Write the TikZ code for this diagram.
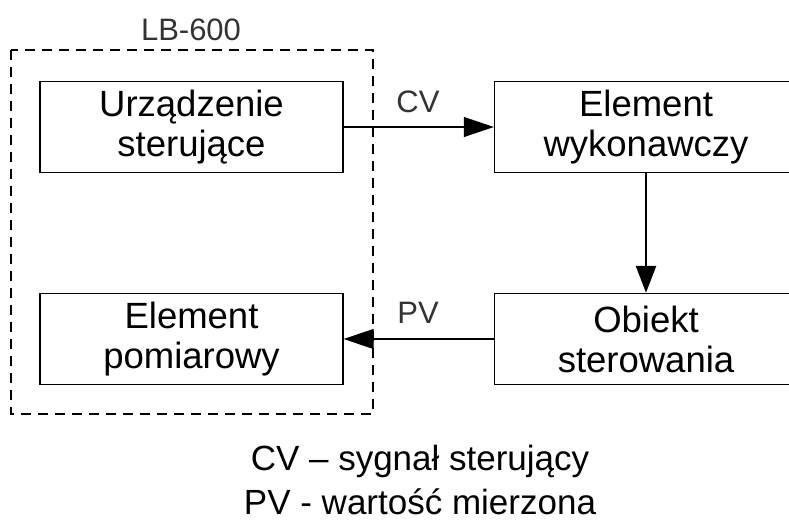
\documentclass[tikz,border=0pt]{standalone}
\usepackage{fontspec}
\setmainfont{Liberation Sans}
\usetikzlibrary{arrows.meta}
\begin{document}
\begin{tikzpicture}[x=1pt,y=-1pt,
  blk/.style={draw, line width=1.4pt, minimum width=303pt, minimum height=91pt, inner sep=0pt, align=center, font=\fontsize{36.5}{40}\selectfont},
  lbl/.style={font=\fontsize{31}{36}\selectfont, text=black!80, inner sep=0pt},
  conn/.style={line width=1.2pt, -{Triangle[length=30pt,width=20pt]}},
  vconn/.style={line width=2.6pt, -{Triangle[length=27pt,width=20pt]}},
  grp/.style={draw, dash pattern=on 10pt off 7pt, line width=1.3pt},
  ]
\useasboundingbox (0,0) rectangle (789,521);
\clip (0,0) rectangle (789,521);
\fill[white] (0,0) rectangle (789,521);
\draw[grp] (11,50) rectangle (373,414);
\node[lbl] (lb) at (191,30) {LB-600};
\node[blk] (us) at (191.5,127) {Urządzenie\\sterujące};
\node[blk] (ep) at (191.5,339) {Element\\pomiarowy};
\node[blk] (ew) at (646,127) {Element\\wykonawczy};
\node[blk] (ob) at (646,339) {Obiekt\\sterowania};
\draw[conn] (us.east) -- (ew.west);
\draw[vconn] (ew.south) -- (ob.north);
\draw[conn] (ob.west) -- (ep.east);
\node[lbl] (cv) at (418,102) {CV};
\node[lbl] (pv) at (418,313) {PV};
\node[align=center, inner sep=0pt, font=\fontsize{35}{44}\selectfont] (leg) at (420,480) {CV – sygnał sterujący\\PV - wartość mierzona};
\end{tikzpicture}
\end{document}
